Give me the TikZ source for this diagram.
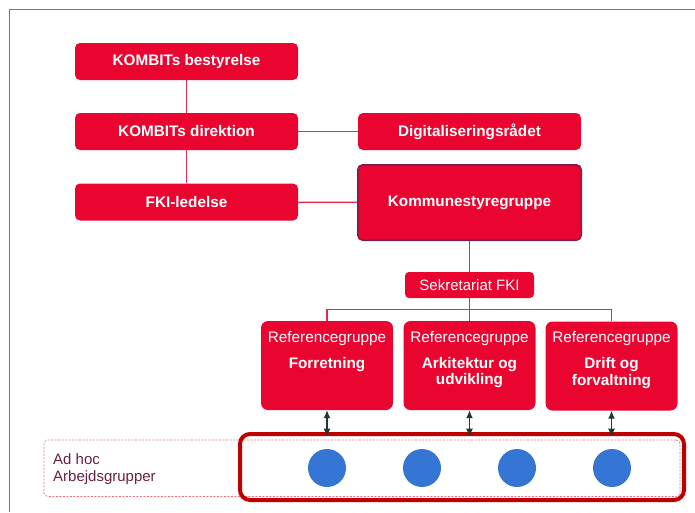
\documentclass[tikz,border=0pt]{standalone}
\usepackage{fontspec}
\setmainfont{Liberation Sans}
\usetikzlibrary{calc,arrows.meta}
\definecolor{kred}{RGB}{233,5,48}
\definecolor{kline}{RGB}{230,40,76}
\definecolor{kpurple}{RGB}{122,30,78}
\definecolor{kdark}{RGB}{30,58,48}
\definecolor{kblue}{RGB}{53,117,211}
\definecolor{kframe}{RGB}{192,0,0}
\definecolor{kpink}{RGB}{240,108,130}
\definecolor{kmauve}{RGB}{176,92,128}
\definecolor{ktext}{RGB}{107,31,66}

\begin{document}
\begin{tikzpicture}[x=1pt,y=-1pt,
        redbox/.style={fill=kred, rounded corners=5pt, text=white, inner sep=0pt,
            font=\fontsize{15.3}{16.5}\selectfont\bfseries, minimum width=223pt, minimum height=37pt},
        smallbox/.style={fill=kred, rounded corners=4pt, text=white, inner sep=0pt,
            font=\fontsize{15}{16.5}\selectfont, minimum width=129pt, minimum height=26pt},
        refbox/.style={fill=kred, rounded corners=7pt, inner sep=0pt, minimum width=132pt, minimum height=89pt},
        reftext/.style={text=white, align=center, inner sep=0pt, anchor=north,
            font=\fontsize{15.3}{16.5}\selectfont},
        conn/.style={draw=kline, line width=1.3pt},
        biarrow/.style={{Latex[length=8pt,width=7pt]}-{Latex[length=8pt,width=7pt]}, draw=kdark, line width=1.2pt},
        worker/.style={circle, fill=kblue, minimum size=38pt, inner sep=0pt}]
        \useasboundingbox (0,0) rectangle (695,512);
        \draw[kmauve, line width=1pt] (9,512) -- (9,9) -- (695,9);

        % ledelse
        \node[redbox] (bestyrelse) at (186.5,61.5) {KOMBITs bestyrelse};
        \node[redbox] (direktion) at (186.5,131.5) {KOMBITs direktion};
        \node[redbox] (fki) at (186.5,202) {FKI-ledelse};
        \node[redbox] (digi) at (469.5,131.5) {Digitaliseringsrådet};
        \node[redbox, minimum width=223.5pt, minimum height=75.5pt, draw=kpurple, line width=1.5pt] (kommune) at (469.5,202.5) {Kommunestyregruppe};
        \node[smallbox] (sekretariat) at (469.5,285) {Sekretariat FKI};

        \draw[conn] (bestyrelse) -- (direktion);
        \draw[conn] (direktion) -- (fki);
        \draw[conn] (direktion) -- (digi);
        \draw[conn] (fki) -- (kommune);
        \draw[conn] (kommune) -- (sekretariat);

        % referencegrupper
        \node[refbox] (ref1) at (327,365.5) {};
        \node[refbox] (ref2) at (469.5,365.5) {};
        \node[refbox] (ref3) at (611.5,366) {};
        \node[reftext] (reftext1) at ([yshift=-10pt]ref1.north) {Referencegruppe\\[9.5pt]\textbf{Forretning}};
        \node[reftext] (reftext2) at ([yshift=-10pt]ref2.north) {Referencegruppe\\[9.5pt]\textbf{Arkitektur og}\\\textbf{udvikling}};
        \node[reftext] (reftext3) at ([yshift=-10pt]ref3.north) {Referencegruppe\\[9.5pt]\textbf{Drift og}\\\textbf{forvaltning}};

        \draw[conn] (sekretariat.south) -- ++(0,11) coordinate (split);
        \draw[conn] (ref1.north) |- (split) -| (ref3.north);
        \draw[conn] (split) -- (ref2.north);

        % arbejdsgrupper
        \node[draw=kpink, dashed, dash pattern=on 2pt off 1.5pt, rounded corners=4pt, line width=0.7pt,
            minimum width=636pt, minimum height=56.5pt, inner sep=0pt] (adhoc) at (362,468.25) {};
        \node[anchor=west, align=left, inner sep=0pt, text=ktext, font=\fontsize{15}{17.5}\selectfont] (adhoctext) at (53,469) {Ad hoc\\Arbejdsgrupper};
        \node[draw=kframe, line width=4pt, rounded corners=10pt, minimum width=444pt, minimum height=66pt, inner sep=0pt] (pool) at (462,467) {};
        \foreach \x [count=\i] in {327,422,517,612}
            \node[worker] (c\i) at (\x,468) {};

        \foreach \i in {1,2,3}
            \draw[biarrow] (ref\i.south) -- ([yshift=3pt]ref\i.south |- adhoc.north);
\end{tikzpicture}
\end{document}
